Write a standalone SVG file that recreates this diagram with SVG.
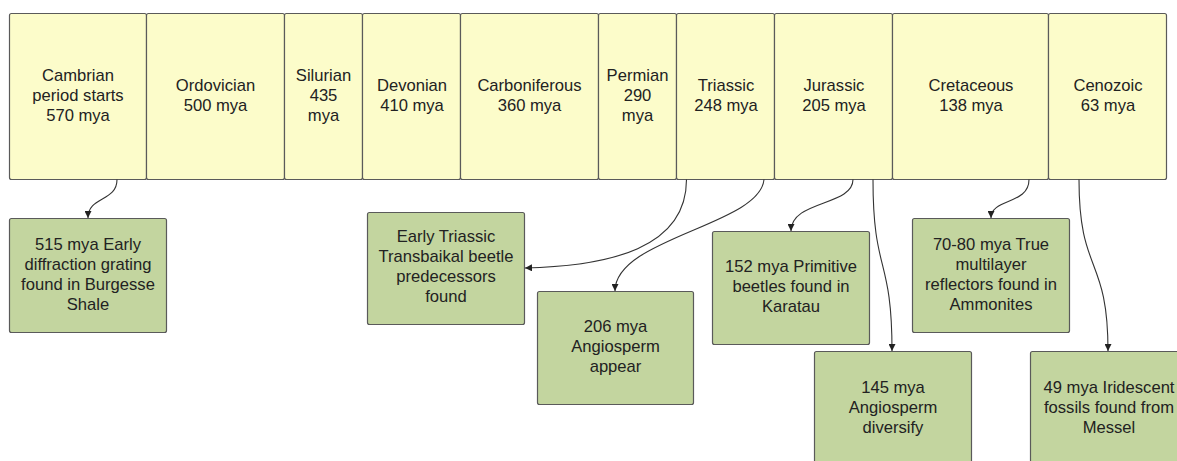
<svg xmlns="http://www.w3.org/2000/svg" width="1177" height="461" viewBox="0 0 1177 461">
<style>
.era{fill:#fcfcca;stroke:#5a5a5a;stroke-width:1.2}
.ev{fill:#c3d59f;stroke:#5a5a5a;stroke-width:1.2}
text{font-family:"Liberation Sans",Arial,sans-serif;font-size:16.6px;fill:#222;text-anchor:middle}
.c{fill:none;stroke:#333;stroke-width:1.1}
</style>
<defs>
<marker id="ah" viewBox="0 0 10 10" refX="10" refY="5" markerWidth="7" markerHeight="7" markerUnits="userSpaceOnUse" orient="auto">
<path d="M0,0 L10,5 L0,10 z" fill="#222"/>
</marker>
</defs>
<rect width="1177" height="461" fill="#fff"/>
<g id="cambrian"><rect class="era" x="9.5" y="13.5" width="137" height="166" rx="2"/><text x="78" y="81">Cambrian</text><text x="78" y="101">period starts</text><text x="78" y="121">570 mya</text></g>
<g id="ordovician"><rect class="era" x="146.5" y="13.5" width="138" height="166" rx="2"/><text x="215.5" y="91">Ordovician</text><text x="215.5" y="111">500 mya</text></g>
<g id="silurian"><rect class="era" x="284.5" y="13.5" width="78" height="166" rx="2"/><text x="323.5" y="81">Silurian</text><text x="323.5" y="101">435</text><text x="323.5" y="121">mya</text></g>
<g id="devonian"><rect class="era" x="362.5" y="13.5" width="98" height="166" rx="2"/><text x="412" y="91">Devonian</text><text x="412" y="111">410 mya</text></g>
<g id="carboniferous"><rect class="era" x="460.5" y="13.5" width="138" height="166" rx="2"/><text x="529.5" y="91">Carboniferous</text><text x="529.5" y="111">360 mya</text></g>
<g id="permian"><rect class="era" x="598.5" y="13.5" width="78" height="166" rx="2"/><text x="637.5" y="81">Permian</text><text x="637.5" y="101">290</text><text x="637.5" y="121">mya</text></g>
<g id="triassic"><rect class="era" x="676.5" y="13.5" width="98" height="166" rx="2"/><text x="726" y="91">Triassic</text><text x="726" y="111">248 mya</text></g>
<g id="jurassic"><rect class="era" x="774.5" y="13.5" width="118" height="166" rx="2"/><text x="834" y="91">Jurassic</text><text x="834" y="111">205 mya</text></g>
<g id="cretaceous"><rect class="era" x="892.5" y="13.5" width="156" height="166" rx="2"/><text x="971" y="91">Cretaceous</text><text x="971" y="111">138 mya</text></g>
<g id="cenozoic"><rect class="era" x="1048.5" y="13.5" width="118" height="166" rx="2"/><text x="1108" y="91">Cenozoic</text><text x="1108" y="111">63 mya</text></g>

<g id="ev515"><rect class="ev" x="9.5" y="218.5" width="157" height="114" rx="2"/><text x="88" y="250">515 mya Early</text><text x="88" y="270">diffraction grating</text><text x="88" y="290">found in Burgesse</text><text x="88" y="310">Shale</text></g>
<g id="evTransbaikal"><rect class="ev" x="367.5" y="212.5" width="157" height="112" rx="2"/><text x="446" y="242">Early Triassic</text><text x="446" y="262">Transbaikal beetle</text><text x="446" y="282">predecessors</text><text x="446" y="302">found</text></g>
<g id="ev206"><rect class="ev" x="537.5" y="291.5" width="156" height="113" rx="2"/><text x="615.5" y="332">206 mya</text><text x="615.5" y="352">Angiosperm</text><text x="615.5" y="372">appear</text></g>
<g id="ev152"><rect class="ev" x="712.5" y="231.5" width="157" height="113" rx="2"/><text x="791" y="272">152 mya Primitive</text><text x="791" y="292">beetles found in</text><text x="791" y="312">Karatau</text></g>
<g id="ev7080"><rect class="ev" x="912.5" y="218.5" width="157" height="114" rx="2"/><text x="991" y="250">70-80 mya True</text><text x="991" y="270">multilayer</text><text x="991" y="290">reflectors found in</text><text x="991" y="310">Ammonites</text></g>
<g id="ev145"><rect class="ev" x="814.5" y="351.5" width="157" height="114" rx="2"/><text x="893" y="393">145 mya</text><text x="893" y="413">Angiosperm</text><text x="893" y="433">diversify</text></g>
<g id="ev49"><rect class="ev" x="1030.5" y="351.5" width="157" height="114" rx="2"/><text x="1109" y="393">49 mya Iridescent</text><text x="1109" y="413">fossils found from</text><text x="1109" y="433">Messel</text></g>

<g id="connectors">
<path class="c" marker-end="url(#ah)" d="M117,179.5 C117,202 88,196 88,218"/>
<path class="c" marker-end="url(#ah)" d="M686.5,179.5 C686.5,248 610,266 525,268"/>
<path class="c" marker-end="url(#ah)" d="M764,179.5 C760,225 615,238 615,291"/>
<path class="c" marker-end="url(#ah)" d="M853,179.5 C853,206 791,200 791,231"/>
<path class="c" marker-end="url(#ah)" d="M873,179.5 C873,275 892,255 892,351"/>
<path class="c" marker-end="url(#ah)" d="M1029,179.5 C1029,205 991,198 991,218"/>
<path class="c" marker-end="url(#ah)" d="M1079,179.5 C1079,275 1108,255 1108,351"/>
</g>
</svg>
